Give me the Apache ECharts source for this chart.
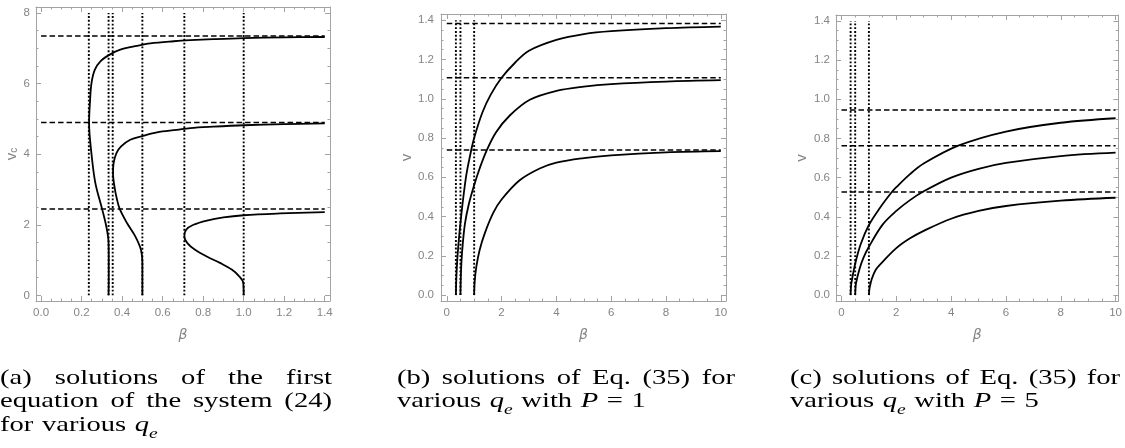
<!DOCTYPE html>
<html>
<head>
<meta charset="utf-8">
<script src="https://cdn.jsdelivr.net/npm/echarts@6/dist/echarts.min.js"></script>
<style>
  html, body { margin: 0; padding: 0; background: #fff; }
  #main { width: 1125px; height: 448px; }
</style>
</head>
<body>
<div id="main"></div>
<script>
var chartDom = document.getElementById('main');
var myChart = echarts.init(chartDom);
var option;

// ---- panel (a): beta against v_c, curves read as (beta, v) pairs along each branch
const a1V    = [0, 0.5, 1.0, 1.5, 1.95, 2.45, 3.18, 4.0, 4.88, 5.54, 6.02, 6.39, 6.63, 6.82, 6.96, 7.07, 7.14, 7.20, 7.23, 7.26, 7.29, 7.31, 7.32];
const a1Beta = [0.333, 0.334, 0.334, 0.333, 0.322, 0.301, 0.268, 0.249, 0.237, 0.242, 0.249, 0.265, 0.293, 0.339, 0.391, 0.473, 0.539, 0.654, 0.736, 0.85, 1.0, 1.2, 1.4];
const a2V    = [0, 0.5, 0.92, 1.29, 1.67, 2.05, 2.45, 2.71, 3.09, 3.47, 3.75, 4.03, 4.22, 4.41, 4.52, 4.62, 4.69, 4.74, 4.78, 4.82, 4.85, 4.87];
const a2Beta = [0.5, 0.5, 0.5, 0.493, 0.465, 0.424, 0.388, 0.375, 0.362, 0.355, 0.358, 0.372, 0.395, 0.44, 0.503, 0.572, 0.67, 0.736, 0.85, 1.0, 1.2, 1.4];
const a3V    = [0, 0.35, 0.54, 0.73, 0.92, 1.10, 1.29, 1.48, 1.67, 1.86, 2.0, 2.12, 2.21, 2.27, 2.32, 2.36];
const a3Beta = [1.0, 0.998, 0.978, 0.941, 0.883, 0.818, 0.760, 0.722, 0.707, 0.716, 0.752, 0.818, 0.90, 1.0, 1.18, 1.4];
const aDotted = [0.2357, 0.3333, 0.3536, 0.5, 0.7071, 1.0];
const aDashed = [2.45, 4.9, 7.35];

// ---- panel (b): P = 1
const b1Beta = [0.333, 0.36, 0.42, 0.54, 0.7, 0.85, 1.0, 1.3, 1.6, 2.0, 2.5, 3.0, 4.0, 5.0, 6.0, 8.0, 10];
const b1V    = [0, 0.12, 0.25, 0.42, 0.6, 0.71, 0.80, 0.93, 1.02, 1.107, 1.185, 1.245, 1.30, 1.33, 1.345, 1.36, 1.368];
const b2Beta = [0.5, 0.52, 0.56, 0.66, 0.8, 1.0, 1.2, 1.45, 1.8, 2.3, 3.03, 4.0, 5.0, 6.0, 8.0, 10];
const b2V    = [0, 0.12, 0.22, 0.36, 0.46, 0.56, 0.645, 0.735, 0.83, 0.915, 0.995, 1.04, 1.062, 1.075, 1.088, 1.095];
const b3Beta = [1.0, 1.02, 1.08, 1.2, 1.39, 1.7, 2.0, 2.66, 3.39, 4.0, 5.0, 6.0, 8.0, 10];
const b3V    = [0, 0.07, 0.145, 0.23, 0.316, 0.42, 0.487, 0.585, 0.645, 0.675, 0.698, 0.712, 0.727, 0.733];
const bDotted = [0.3333, 0.5, 1.0];
const bDashed = [0.739, 1.107, 1.383];

// ---- panel (c): P = 5
const c1Beta = [0.333, 0.34, 0.36, 0.5, 0.7, 1.0, 1.4, 1.83, 2.0, 2.5, 3.0, 4.26, 6.0, 8.0, 10];
const c1V    = [0, 0.03, 0.06, 0.16, 0.26, 0.358, 0.445, 0.525, 0.551, 0.618, 0.672, 0.763, 0.835, 0.88, 0.903];
const c2Beta = [0.5, 0.51, 0.53, 0.65, 0.8, 1.0, 1.5, 2.0, 2.5, 3.0, 4.0, 5.0, 6.0, 8.0, 10];
const c2V    = [0, 0.03, 0.06, 0.13, 0.19, 0.247, 0.36, 0.43, 0.485, 0.53, 0.6, 0.645, 0.675, 0.71, 0.727];
const c3Beta = [1.0, 1.01, 1.03, 1.1, 1.25, 1.5, 2.0, 2.5, 3.0, 4.0, 5.0, 6.0, 8.0, 10];
const c3V    = [0, 0.02, 0.04, 0.08, 0.13, 0.17, 0.24, 0.29, 0.328, 0.39, 0.43, 0.455, 0.482, 0.497];
const cDotted = [0.3333, 0.5, 1.0];
const cDashed = [0.526, 0.763, 0.945];

// tick labels
const aXTicks = [0, 0.2, 0.4, 0.6, 0.8, 1.0, 1.2, 1.4];
const aYTicks = [0, 2, 4, 6, 8];
const bcXTicks = [0, 2, 4, 6, 8, 10];
const bcYTicks = [0, 0.2, 0.4, 0.6, 0.8, 1.0, 1.2, 1.4];

const frameColor = '#a3a3a3';
const labelColor = '#858585';
const sansFont = 'Liberation Sans';

function minorTicks(major, step) {
    const out = [];
    const first = major[0], last = major[major.length - 1];
    const n = Math.round((last - first) / step);
    for (let i = 0; i <= n; i++) {
        const v = +(first + i * step).toFixed(6);
        if (!major.some(m => Math.abs(m - v) < 1e-9)) out.push(v);
    }
    return out;
}

// four axes per side pair: main (labels + major ticks), minor ticks, opposite frame side major + minor
function frameAxes(dim, grid, range, major, minorStep, fmt, nameOpt, margin) {
    const minor = minorTicks(major, minorStep);
    const sides = dim === 'x' ? ['bottom', 'top'] : ['left', 'right'];
    const base = { type: 'value', gridIndex: grid, min: range[0], max: range[1], splitLine: { show: false } };
    const line = { show: true, onZero: false, lineStyle: { color: frameColor, width: 1 } };
    const noLine = { show: false, onZero: false };
    const tick = (vals, len) => ({ show: true, inside: true, length: len, customValues: vals, lineStyle: { color: frameColor, width: 1 } });
    return [
        Object.assign({}, base, nameOpt, {
            position: sides[0], axisLine: line, axisTick: tick(major, 5),
            axisLabel: { customValues: major, formatter: fmt, color: labelColor, fontSize: 11.5, fontFamily: sansFont, margin: margin }
        }),
        Object.assign({}, base, { position: sides[0], axisLine: noLine, axisTick: tick(minor, 2.5), axisLabel: { show: false } }),
        Object.assign({}, base, { position: sides[1], axisLine: line, axisTick: tick(major, 5), axisLabel: { show: false } }),
        Object.assign({}, base, { position: sides[1], axisLine: noLine, axisTick: tick(minor, 2.5), axisLabel: { show: false } })
    ];
}

const fix1 = v => v.toFixed(1);
const fix0 = v => String(Math.round(v));

const betaName = {
    name: 'β', nameLocation: 'middle', nameGap: 27,
    nameTextStyle: { color: labelColor, fontStyle: 'italic', fontSize: 14, fontFamily: 'DejaVu Sans' }
};
function vName(sub, gap) {
    return {
        name: sub ? '{v|v}{s|c}' : '{v|v}', nameLocation: 'middle', nameGap: gap,
        nameTextStyle: {
            color: labelColor,
            rich: {
                v: { fontSize: 15, fontFamily: sansFont, color: labelColor },
                s: { fontSize: 10, fontFamily: sansFont, color: labelColor, padding: [6, 0, 0, 0] }
            }
        }
    };
}

const xAxes = [].concat(
    frameAxes('x', 0, [-0.025, 1.426], aXTicks, 0.05, fix1, betaName, 6),
    frameAxes('x', 1, [-0.21, 10.19], bcXTicks, 0.5, fix0, betaName, 6),
    frameAxes('x', 2, [-0.2, 10.1], bcXTicks, 0.5, fix0, betaName, 6)
);
const yAxes = [].concat(
    frameAxes('y', 0, [-0.16, 8.17], aYTicks, 0.5, fix0, vName(true, 14), 6),
    frameAxes('y', 1, [-0.03, 1.432], bcYTicks, 0.05, fix1, vName(false, 27), 7),
    frameAxes('y', 2, [-0.03, 1.43], bcYTicks, 0.05, fix1, vName(false, 27), 6)
);

function curve(xs, ys, panel) {
    return {
        type: 'line', xAxisIndex: panel * 4, yAxisIndex: panel * 4,
        data: xs.map((x, i) => [x, ys[i]]),
        showSymbol: false, smooth: 0.35, silent: true, z: 3,
        lineStyle: { color: '#000', width: 1.8 }
    };
}
function refLine(p0, p1, panel, dotted) {
    return {
        type: 'line', xAxisIndex: panel * 4, yAxisIndex: panel * 4,
        data: [p0, p1], showSymbol: false, silent: true, z: 2,
        lineStyle: dotted ? { color: '#000', width: 1.9, type: [1.9, 1.9] }
                          : { color: '#000', width: 1.5, type: [5.5, 3] }
    };
}

const series = [];
aDotted.forEach(b => series.push(refLine([b, 0], [b, 8], 0, true)));
aDashed.forEach(v => series.push(refLine([0, v], [1.4, v], 0, false)));
bDotted.forEach(b => series.push(refLine([b, 0], [b, 1.4], 1, true)));
bDashed.forEach(v => series.push(refLine([0, v], [10, v], 1, false)));
cDotted.forEach(b => series.push(refLine([b, 0], [b, 1.4], 2, true)));
cDashed.forEach(v => series.push(refLine([0, v], [10, v], 2, false)));
series.push(curve(a1Beta, a1V, 0), curve(a2Beta, a2V, 0), curve(a3Beta, a3V, 0));
series.push(curve(b1Beta, b1V, 1), curve(b2Beta, b2V, 1), curve(b3Beta, b3V, 1));
series.push(curve(c1Beta, c1V, 2), curve(c2Beta, c2V, 2), curve(c3Beta, c3V, 2));

// ---- captions (LaTeX style, justified first lines)
const capFont = 'Liberation Serif';
const capSize = 22;
const capScale = 1.3;
const measureCtx = document.createElement('canvas').getContext('2d');
function tokFont(t) {
    return (t.it ? 'italic ' : '') + (t.sub ? 15 : capSize) + 'px "' + capFont + '"';
}
function tokWidth(t) {
    measureCtx.font = tokFont(t);
    return measureCtx.measureText(t.t).width * capScale;
}
function w(s) { return [{ t: s }]; }
const qe = [{ t: 'q', it: true }, { t: 'e', it: true, sub: true }];

function layoutLine(words, x0, x1, base, justify) {
    const widths = words.map(wd => wd.reduce((s, t) => s + tokWidth(t), 0));
    const total = widths.reduce((s, v) => s + v, 0);
    const gap = justify ? (x1 - x0 - total) / (words.length - 1) : 0.3 * capSize * capScale;
    const els = [];
    let x = x0;
    words.forEach((wd, i) => {
        let xx = x;
        wd.forEach(t => {
            els.push({
                type: 'text', x: xx, y: t.sub ? base + 2 : base - 7, scaleX: capScale,
                style: { text: t.t, font: tokFont(t), fill: '#000', verticalAlign: 'middle', align: 'left' },
                silent: true
            });
            xx += tokWidth(t);
        });
        x += widths[i] + gap;
    });
    return els;
}

const captions = [].concat(
    layoutLine([w('(a)'), w('solutions'), w('of'), w('the'), w('first')], 0, 332, 385, true),
    layoutLine([w('equation'), w('of'), w('the'), w('system'), w('(24)')], 0, 332, 408.5, true),
    layoutLine([w('for'), w('various'), qe], 0, 0, 432, false),
    layoutLine([w('(b)'), w('solutions'), w('of'), w('Eq.'), w('(35)'), w('for')], 397, 735, 385, true),
    layoutLine([w('various'), qe, w('with'), [{ t: 'P', it: true }], w('='), w('1')], 397, 0, 408.5, false),
    layoutLine([w('(c)'), w('solutions'), w('of'), w('Eq.'), w('(35)'), w('for')], 790, 1120, 385, true),
    layoutLine([w('various'), qe, w('with'), [{ t: 'P', it: true }], w('='), w('5')], 790, 0, 408.5, false)
);

option = {
    animation: false,
    backgroundColor: '#fff',
    grid: [
        { left: 36, top: 7, width: 294, height: 294 },
        { left: 441, top: 14, width: 285, height: 287 },
        { left: 836, top: 15, width: 283, height: 286 }
    ],
    xAxis: xAxes,
    yAxis: yAxes,
    series: series,
    graphic: { elements: captions }
};

myChart.setOption(option);
</script>
</body>
</html>
